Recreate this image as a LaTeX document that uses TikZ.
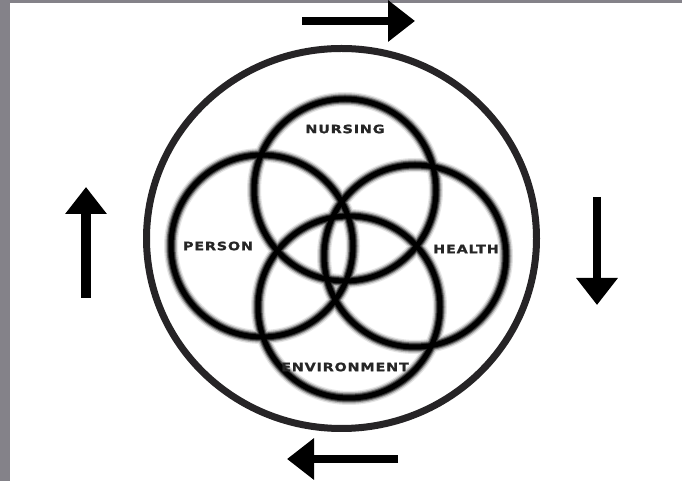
\documentclass[tikz,border=0pt]{standalone}
\usepackage{fontspec}
\usepackage{tikz}
\usetikzlibrary{arrows.meta,positioning}
\newfontfamily\labelfont[FakeStretch=1.25,LetterSpace=7,FakeBold=1.2]{DejaVu Sans}
\definecolor{frameGray}{RGB}{132,130,137}
\definecolor{ringInk}{RGB}{8,8,8}
\definecolor{rimInk}{RGB}{38,36,38}

\begin{document}
\begin{tikzpicture}[x=1pt,y=1pt,
  ring/.style={circle,inner sep=0pt,minimum size=182pt},
  haze/.style={draw=black!#1},
  lbl/.style={font=\labelfont\bfseries\fontsize{11.5}{13}\selectfont,text=black!85},
  turn/.style={line width=8.5pt,draw=black,-{Triangle[length=27pt,width=40pt]}}]
  \useasboundingbox (0,0) rectangle (682,481);
  % panel
  \fill[white] (0,0) rectangle (682,481);
  \fill[frameGray] (0,0) rectangle (10,481);
  \fill[frameGray] (0,478) rectangle (682,481);
  % outer rim
  \draw[rimInk,line width=7pt] (341.5,242.5) ellipse (195 and 190);
  % rings
  \foreach \nm/\cx/\cy in {nurs/345/291,pers/262/235,hlth/415/225,envr/349/174} {
    \node[ring] (\nm) at (\cx,\cy) {};
  }
  % soft edges, widest first
  \foreach \w/\k in {14/10,11.5/28,9/55,7/80,5/100} {
    \foreach \nm in {nurs,pers,hlth,envr} {
      \draw[haze=\k,line width=\w pt] (\nm) circle (91);
    }
  }
  % labels
  \node[lbl] (nursTxt) at (345,352) {NURSING};
  \node[lbl] (persTxt) at (218,235) {PERSON};
  \node[lbl] (hlthTxt) at (466,232) {HEALTH};
  \node[lbl] (envrTxt) at (345,114) {ENVIRONMENT};
  % turning arrows
  \coordinate (topA) at (302,460);  \coordinate (topB) at (415,460);
  \coordinate (rgtA) at (597,284);  \coordinate (rgtB) at (597,176);
  \coordinate (botA) at (398,22);   \coordinate (botB) at (287,22);
  \coordinate (lftA) at (86,183);   \coordinate (lftB) at (86,294);
  \draw[turn] (topA) -- (topB);
  \draw[turn] (rgtA) -- (rgtB);
  \draw[turn] (botA) -- (botB);
  \draw[turn,line width=10pt] (lftA) -- (lftB);
\end{tikzpicture}
\end{document}
